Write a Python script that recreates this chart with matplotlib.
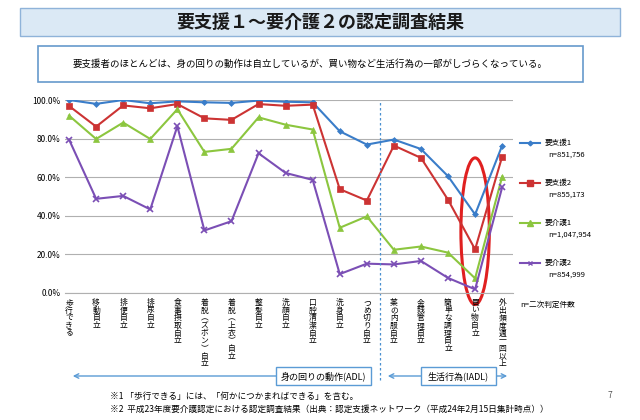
import matplotlib
matplotlib.use("Agg")
import matplotlib.pyplot as plt
from matplotlib.patches import Rectangle, Ellipse, FancyArrowPatch
from matplotlib.lines import Line2D

plt.rcParams["font.family"] = "Noto Sans CJK JP"

categories = ["歩行できる", "移動自立", "排便自立", "排尿自立", "食事摂取自立",
              "着脱(ズボン)自立", "着脱(上衣)自立", "整髪自立", "洗顔自立", "口腔清潔自立",
              "洗身自立", "つめ切り自立", "薬の内服自立", "金銭管理自立", "簡単な調理自立",
              "買い物自立", "外出頻度週一回以上"]

shien1 = [100, 98, 100, 98.3, 99.3, 98.8, 98.5, 99.7, 99.1, 98.8, 83.8, 76.9, 79.5, 74.6, 60.5, 40.7, 76.4]
shien2 = [96.9, 86.2, 97.2, 95.7, 97.9, 90.5, 89.7, 97.9, 97.0, 97.6, 53.8, 47.9, 76.4, 70.0, 48.3, 22.6, 70.7]
kaigo1 = [91.9, 79.8, 88.3, 79.8, 95.2, 73.1, 74.7, 91.0, 87.2, 84.7, 33.8, 39.7, 22.4, 24.1, 20.9, 7.6, 60.3]
kaigo2 = [79.5, 48.8, 50.3, 43.3, 86.4, 32.4, 37.2, 72.4, 62.2, 58.6, 9.8, 15.2, 14.8, 16.6, 7.8, 1.9, 54.8]

series = [
    ("要支援1", "n=851,756", shien1, "#3a7dc9", "D", 3),
    ("要支援2", "n=855,173", shien2, "#cc3333", "s", 5),
    ("要介護1", "n=1,047,954", kaigo1, "#8cc63f", "^", 5),
    ("要介護2", "n=854,999", kaigo2, "#7b4fb5", "x", 4),
]
yticks = [0, 20, 40, 60, 80, 100]

fig = plt.figure(figsize=(6.4, 4.2), dpi=100)
W, H = 640, 420

def fx(x): return x / W
def fy(y): return 1 - y / H

# title box
fig.patches.append(Rectangle((fx(20), fy(36)), fx(600), 28 / H, transform=fig.transFigure,
                             facecolor="#dbe9f5", edgecolor="#8fb3d9", lw=1))
fig.text(fx(320), fy(22), "要支援１～要介護２の認定調査結果", ha="center", va="center",
         fontsize=13, fontweight="bold", color="#1a1a1a")
# subtitle box
fig.patches.append(Rectangle((fx(38), fy(82)), fx(545), 36 / H, transform=fig.transFigure,
                             facecolor="white", edgecolor="#6699cc", lw=1.2))
fig.text(fx(310), fy(64), "要支援者のほとんどは、身の回りの動作は自立しているが、買い物など生活行為の一部がしづらくなっている。",
         ha="center", va="center", fontsize=6.8)

ax = fig.add_axes([fx(65), fy(293), fx(448), 193 / H])
x = list(range(len(categories)))
for name, n, vals, col, mk, ms in series:
    ax.plot(x, [v / 100 for v in vals], color=col, marker=mk, ms=ms, lw=1.5,
            mew=1.2 if mk == "x" else 0.5)
ax.set_xlim(-0.15, 16.4)
ax.set_ylim(0, 1)
ax.set_yticks([t / 100 for t in yticks])
ax.set_yticklabels([f"{t:.1f}%" for t in yticks], fontsize=6)
ax.yaxis.grid(True, color="#b0b0b0", lw=0.8)
ax.set_axisbelow(True)
ax.set_xticks(x)
ax.set_xticklabels([])
ax.tick_params(axis="x", length=0)
ax.tick_params(axis="y", length=0, pad=3)
for s in ["top", "right", "left"]:
    ax.spines[s].set_visible(False)
ax.spines["bottom"].set_color("#b0b0b0")
ax.axvline(11.5, color="#4a90d0", ls=(0, (2, 2)), lw=0.9, ymin=-0.45, clip_on=False)

for i, c in enumerate(categories):
    txt = "\n".join(c.replace("(", "︵").replace(")", "︶"))
    ax.text(i, -0.03, txt, ha="center", va="top", fontsize=5.6, linespacing=0.95,
            transform=ax.get_xaxis_transform())

# highlight ellipse
ax.add_patch(Ellipse((15, 0.32), 1.05, 0.76, fill=False, edgecolor="#e02020", lw=2.2, clip_on=False))

# legend
ly = [143, 183, 223, 263]
for (name, n, vals, col, mk, ms), yy in zip(series, ly):
    fig.add_artist(Line2D([fx(520), fx(530), fx(540)], [fy(yy)] * 3, color=col, lw=1.5,
                          marker=mk, ms=ms * 0.8, markevery=[1], transform=fig.transFigure))
    fig.text(fx(545), fy(yy), name, fontsize=5.5, va="center")
    fig.text(fx(548), fy(yy + 12), n, fontsize=5.5, va="center")
fig.text(fx(520), fy(305), "n=二次判定件数", fontsize=5.5, va="center")

# group arrows
for x0, x1, label, lx, bw in [(70, 375, "身の回りの動作(ADL)", 323, 95),
                              (385, 510, "生活行為(IADL)", 458, 75)]:
    fig.add_artist(FancyArrowPatch((fx(x0), fy(376)), (fx(x1), fy(376)), transform=fig.transFigure,
                                   arrowstyle="<->", mutation_scale=8, color="#5b9bd5", lw=1))
    fig.patches.append(Rectangle((fx(lx - bw / 2), fy(385)), fx(bw), 18 / H,
                                 transform=fig.transFigure, facecolor="white", edgecolor="#5b9bd5", lw=1))
    fig.text(fx(lx), fy(376), label, ha="center", va="center", fontsize=6.5)

fig.text(fx(110), fy(396), "※1 「歩行できる」には、「何かにつかまればできる」を含む。", fontsize=6.2, va="center")
fig.text(fx(110), fy(409), "※2  平成23年度要介護認定における認定調査結果（出典：認定支援ネットワーク（平成24年2月15日集計時点））",
         fontsize=6.2, va="center")
fig.text(fx(608), fy(396), "7", fontsize=6, va="center", color="#555555")

fig.savefig("out.png", dpi=100)
